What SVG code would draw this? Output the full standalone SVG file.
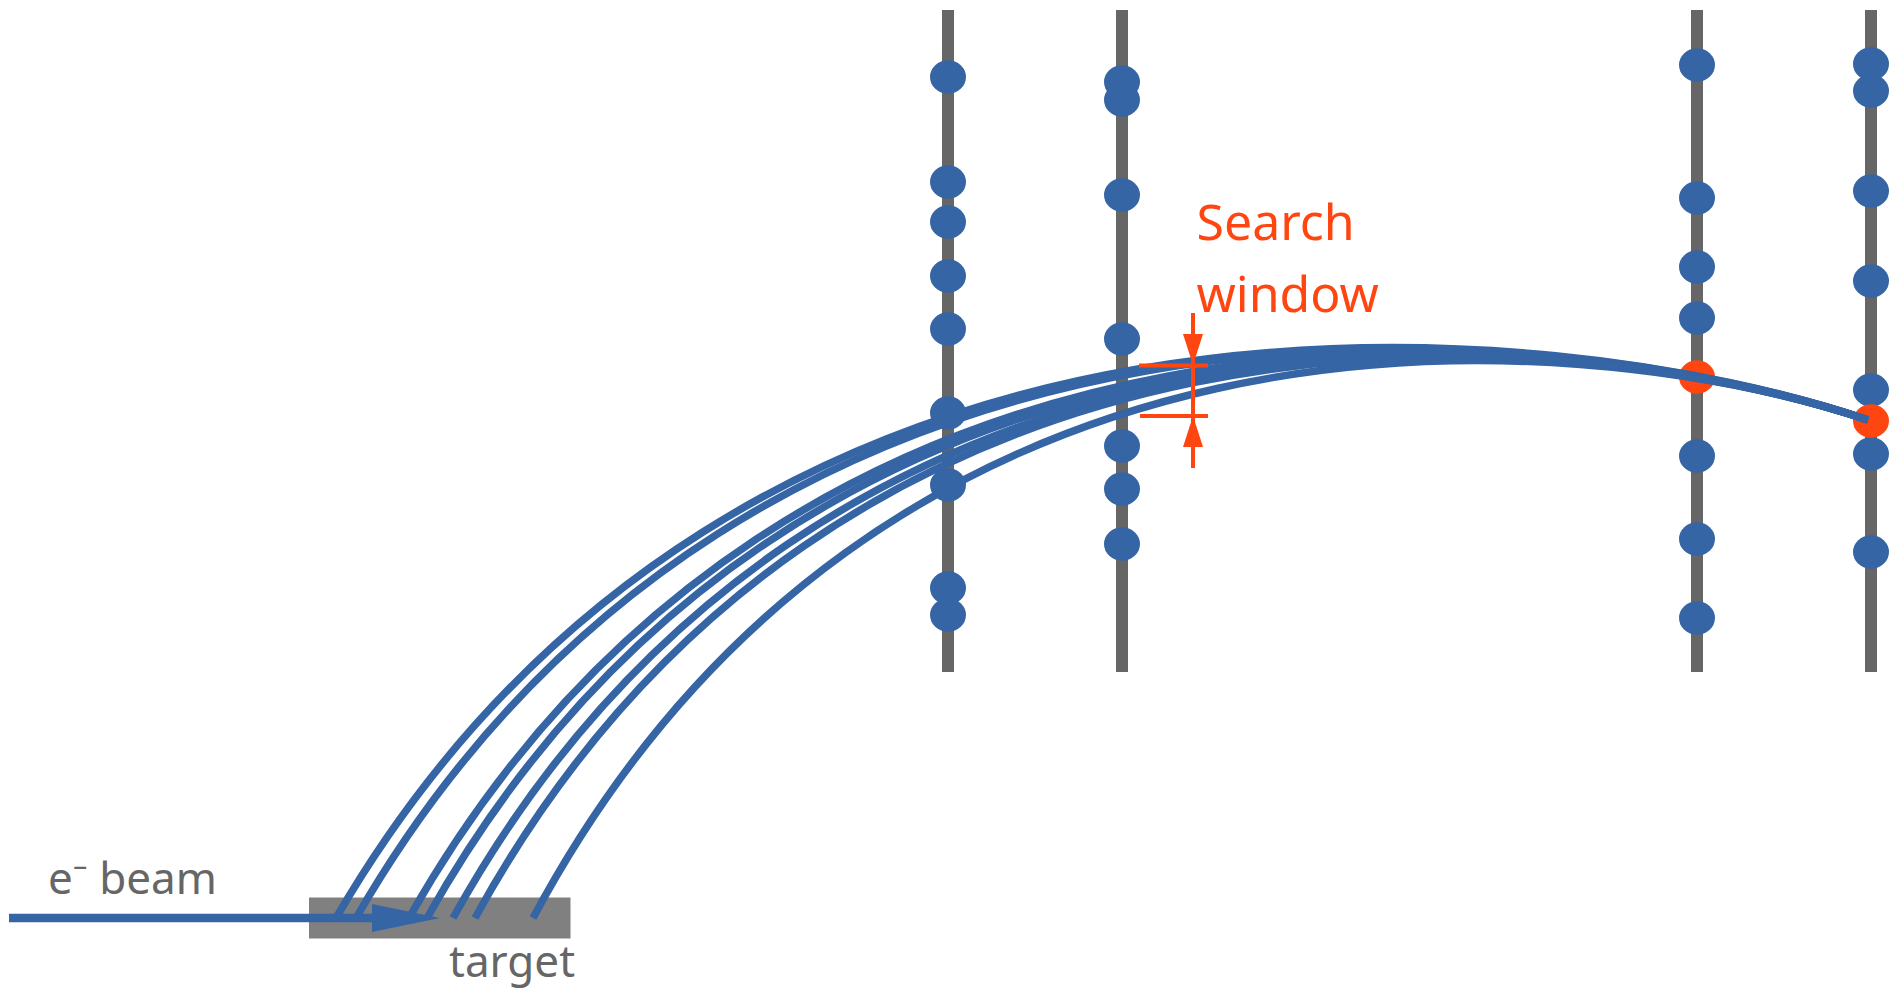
<svg xmlns="http://www.w3.org/2000/svg" width="1892" height="990" viewBox="0 0 1892 990">
<style>
.plane{stroke:#666;stroke-width:12;fill:none}
.hit{fill:#3565a5}
.sel{fill:#ff4510}
.track{stroke:#3565a5;stroke-width:7.500;fill:none}
.win{stroke:#ff4510;stroke-width:4;fill:none}
.gray{font-family:"Noto Sans","Open Sans",sans-serif;font-size:44px;fill:#666}
.red{font-family:"Noto Sans","Open Sans",sans-serif;font-size:50px;fill:#ff4510}
</style>
<defs>
<marker id="redhead" markerUnits="userSpaceOnUse" markerWidth="32" markerHeight="22" refX="31" refY="11" orient="auto"><path d="M0 1L31 11L0 21Z" fill="#ff4510"/></marker>
<marker id="beamhead" markerUnits="userSpaceOnUse" markerWidth="72" markerHeight="32" refX="0" refY="16" orient="auto"><path d="M0 2L68 16L0 30Z" fill="#3565a5"/></marker>
</defs>
<g id="target"><rect x="309" y="897.500" width="261.500" height="41" fill="#808080"/><text class="gray" x="449" y="977">target</text></g>
<g id="planes">
<path class="plane" d="M948 10V672"/><path class="plane" d="M1122 10V672"/><path class="plane" d="M1697 10V672"/><path class="plane" d="M1871 10V672"/>
</g>
<g id="hits">
<g class="hit" id="plane1">
<ellipse cx="948" cy="77" rx="18" ry="16.700"/><ellipse cx="948" cy="182" rx="18" ry="16.700"/><ellipse cx="948" cy="222" rx="18" ry="16.700"/><ellipse cx="948" cy="276" rx="18" ry="16.700"/><ellipse cx="948" cy="329" rx="18" ry="16.700"/><ellipse cx="948" cy="413" rx="18" ry="16.700"/><ellipse cx="948" cy="485" rx="18" ry="16.700"/><ellipse cx="948" cy="588" rx="18" ry="16.700"/><ellipse cx="948" cy="615" rx="18" ry="16.700"/>
</g>
<g class="hit" id="plane2">
<ellipse cx="1122" cy="82" rx="18" ry="16.700"/><ellipse cx="1122" cy="100" rx="18" ry="16.700"/><ellipse cx="1122" cy="195" rx="18" ry="16.700"/><ellipse cx="1122" cy="339" rx="18" ry="16.700"/><ellipse cx="1122" cy="446" rx="18" ry="16.700"/><ellipse cx="1122" cy="489" rx="18" ry="16.700"/><ellipse cx="1122" cy="544" rx="18" ry="16.700"/>
</g>
<g class="hit" id="plane3">
<ellipse cx="1697" cy="65" rx="18" ry="16.700"/><ellipse cx="1697" cy="198" rx="18" ry="16.700"/><ellipse cx="1697" cy="267" rx="18" ry="16.700"/><ellipse cx="1697" cy="318" rx="18" ry="16.700"/><ellipse cx="1697" cy="456" rx="18" ry="16.700"/><ellipse cx="1697" cy="539" rx="18" ry="16.700"/><ellipse cx="1697" cy="618" rx="18" ry="16.700"/>
</g>
<g class="hit" id="plane4">
<ellipse cx="1871" cy="64" rx="18" ry="16.700"/><ellipse cx="1871" cy="91" rx="18" ry="16.700"/><ellipse cx="1871" cy="191" rx="18" ry="16.700"/><ellipse cx="1871" cy="281" rx="18" ry="16.700"/><ellipse cx="1871" cy="390" rx="18" ry="16.700"/><ellipse cx="1871" cy="454" rx="18" ry="16.700"/><ellipse cx="1871" cy="552" rx="18" ry="16.700"/>
</g>
<ellipse id="sel3" class="sel" cx="1697" cy="377" rx="18" ry="16.700"/>
<ellipse id="sel4" class="sel" cx="1871" cy="421" rx="18" ry="16.700"/>
</g>
<g id="connectors">
<path class="track" d="M336 918C740 223 1560 315 1868 420"/>
<path class="track" d="M356 918C754 228 1560.500 315.500 1868 420"/>
<path class="track" d="M409 918C792 240 1562 317 1868 420"/>
<path class="track" d="M427 918C804 245 1562 317 1868 420"/>
<path class="track" d="M453 918C823 251 1563 318 1868 420"/>
<path class="track" d="M475 918C838 256 1563.500 318.500 1868 420"/>
<path class="track" d="M533 918C880 270 1565 320 1868 420"/>
<path d="M9 918H372" stroke="#3565a5" stroke-width="8.500" fill="none" marker-end="url(#beamhead)"/>
<path class="win" d="M1139 365.500H1208"/><path class="win" d="M1140 416H1208"/>
<path class="win" d="M1193 313V365" marker-end="url(#redhead)"/>
<path class="win" d="M1193 468V416" marker-end="url(#redhead)"/>
<path class="win" d="M1193 365V416"/>
</g>
<g id="labels">
<text class="gray" x="48" y="894">e⁻ beam</text>
<text class="red" x="1196.500" y="240">Search</text>
<text class="red" x="1196.500" y="312">window</text>
</g>
</svg>
